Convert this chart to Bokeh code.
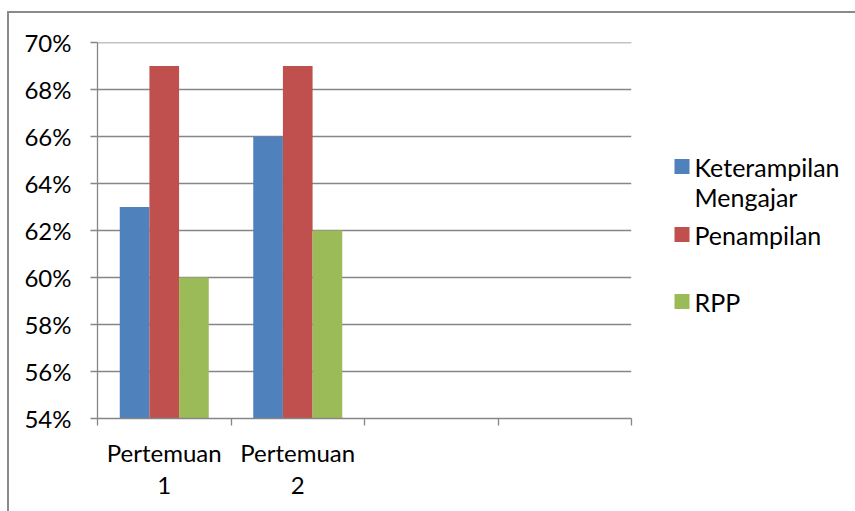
from bokeh.plotting import figure
from bokeh.layouts import row
from bokeh.models import FixedTicker, NumeralTickFormatter, Range1d, Span
from bokeh.embed import file_html
from bokeh.resources import INLINE

# --- data ---------------------------------------------------------------
categories = ["Pertemuan\n1", "Pertemuan\n2", "", ""]
keterampilan_mengajar = [0.63, 0.66]
penampilan = [0.69, 0.69]
rpp = [0.60, 0.62]
y_ticks = [0.54, 0.56, 0.58, 0.60, 0.62, 0.64, 0.66, 0.68, 0.70]
legend_lines = [["Keterampilan", "Mengajar"], ["Penampilan"], ["RPP"]]

colors = ["#4F81BD", "#C0504D", "#9BBB59"]
grid_color = "#868686"
FONT = "Lato"
FONT_SIZE = "24px"

H = 498
LEFT, RIGHT, TOP, BOTTOM = 88, 10, 29, 93
FRAME_W = 534
W = LEFT + FRAME_W + RIGHT
Y0, Y1 = 0.54, 0.70
NCAT = len(categories)

p = figure(width=W, height=H, output_backend="svg", toolbar_location=None,
           x_range=Range1d(0, NCAT), y_range=Range1d(Y0, Y1),
           min_border_left=LEFT, min_border_right=RIGHT,
           min_border_top=TOP, min_border_bottom=BOTTOM)
p.outline_line_color = None

# --- clustered bars -------------------------------------------------------
bar_w = 1 / 4.5
for i, (vals, col) in enumerate(zip([keterampilan_mengajar, penampilan, rpp], colors)):
    xs = [k + 0.5 + (i - 1) * bar_w for k in range(len(vals))]
    p.vbar(x=xs, top=vals, bottom=Y0, width=bar_w, fill_color=col,
           line_color=None)

# --- axes -----------------------------------------------------------------
p.xgrid.visible = False
p.ygrid.grid_line_color = grid_color
p.ygrid.grid_line_width = 1.3
p.ygrid.ticker = FixedTicker(ticks=y_ticks)

yax = p.yaxis[0]
yax.ticker = FixedTicker(ticks=y_ticks)
yax.formatter = NumeralTickFormatter(format="0%")
yax.axis_line_color = grid_color
yax.axis_line_width = 1.3
yax.major_tick_line_color = grid_color
yax.major_tick_line_width = 1.3
yax.major_tick_out = 7
yax.major_tick_in = 0
yax.minor_tick_line_color = None
yax.major_label_standoff = 19
yax.major_label_text_font = FONT
yax.major_label_text_font_size = FONT_SIZE
yax.major_label_text_color = "black"

xax = p.xaxis[0]
centers = [k + 0.5 for k in range(NCAT)]
xax.ticker = FixedTicker(ticks=centers, minor_ticks=list(range(NCAT + 1)))
xax.major_label_overrides = {c: lab for c, lab in zip(centers, categories)}
xax.axis_line_color = grid_color
xax.axis_line_width = 1.3
xax.major_tick_line_color = None
xax.minor_tick_line_color = grid_color
xax.minor_tick_line_width = 1.3
xax.minor_tick_out = 7
xax.minor_tick_in = 0
xax.major_label_standoff = 12
xax.major_label_text_font = FONT
xax.major_label_text_font_size = FONT_SIZE
xax.major_label_text_color = "black"
xax.major_label_text_line_height = 1.12

p.add_layout(Span(location=Y1, dimension="width", line_color=grid_color,
                  line_width=1.3))

# --- legend panel (pixel-space figure, y grows downward) -------------------
# its frame lines up with the chart frame, so y is mapped 1:1 onto the
# panel's own pixel rows between TOP and H - BOTTOM
LW = 846 - W
lg = figure(width=LW, height=H, output_backend="svg", toolbar_location=None,
            x_range=Range1d(0, LW), y_range=Range1d(H - BOTTOM, TOP),
            min_border_left=0, min_border_right=0,
            min_border_top=TOP, min_border_bottom=BOTTOM,
            x_axis_type=None, y_axis_type=None)
lg.outline_line_color = None
lg.grid.visible = False

SWATCH_X = 33
SWATCH = 15
TEXT_X = 53
ROW_Y = [153, 221, 288]   # first-line centre of each legend entry
LINE_STEP = 30

tx, ty, tt = [], [], []
for lines, y in zip(legend_lines, ROW_Y):
    for j, line in enumerate(lines):
        tx.append(TEXT_X)
        ty.append(y + j * LINE_STEP)
        tt.append(line)
lg.quad(left=[SWATCH_X] * 3, right=[SWATCH_X + SWATCH] * 3,
        top=[y - SWATCH / 2 for y in ROW_Y],
        bottom=[y + SWATCH / 2 for y in ROW_Y],
        fill_color=colors, line_color=None)
lg.text(x=tx, y=ty, text=tt, text_font={"value": FONT},
        text_font_size={"value": "25px"}, text_color="black",
        text_baseline="middle", text_align="left")

# page wrapper draws the chart-area border on the left and top
root = row(p, lg, styles={"margin-left": "7px", "margin-top": "11px",
                          "border-left": "2px solid #8a8a8a",
                          "border-top": "2px solid #8a8a8a"})

open("out.html", "w").write(file_html(root, INLINE))
